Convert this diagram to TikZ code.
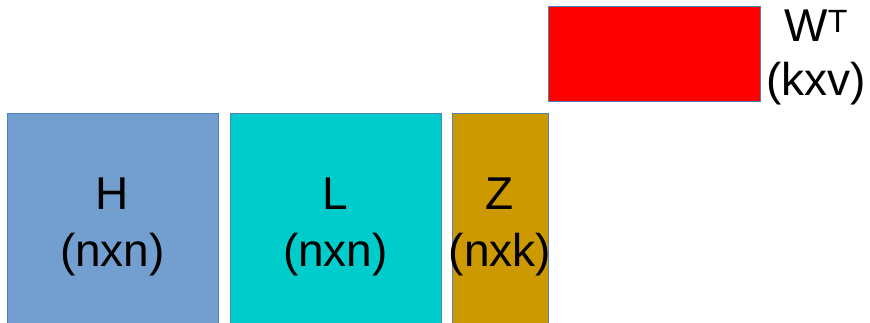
\documentclass[tikz,border=0pt]{standalone}
\usepackage{fontspec}
\setmainfont{Liberation Sans}
\usetikzlibrary{positioning, calc}
\definecolor{hblue}{HTML}{729FCF}
\definecolor{lcyan}{HTML}{00CCCC}
\definecolor{zgold}{HTML}{CC9900}
\definecolor{edgeblue}{HTML}{4F81BD}

\begin{document}
\begin{tikzpicture}[x=1pt, y=-1pt,
  mat/.style={draw=edgeblue, line width=0.6pt, inner sep=0pt, minimum height=211pt},
  lbl/.style={align=center, inner sep=0pt, font=\fontsize{46}{57}\selectfont}
]
\useasboundingbox (0,0) rectangle (870,322);
%% MATRICES
\node[mat, fill=hblue, minimum width=211pt] (h) at (112.5,218.5) {};
\node[mat, fill=lcyan, minimum width=211pt] (l) at (335.5,218.5) {};
\node[mat, fill=zgold, minimum width=96pt]  (z) at (500,218.5) {};
\node[lbl] (hlbl) at ($(h.center)+(0,8)$) {H\\(nxn)};
\node[lbl] (llbl) at ($(l.center)+(0,8)$) {L\\(nxn)};
\node[lbl] (zlbl) at ($(z.center)+(0,8)$) {Z\\(nxk)};
%% TRANSPOSED WEIGHTS
\node[draw=edgeblue, line width=0.6pt, fill=red, minimum width=212pt,
      minimum height=95pt, inner sep=0pt] (w) at (654,53.5) {};
\node[lbl, right=6pt of w.east, yshift=-4pt, font=\fontsize{46}{54}\selectfont] (wlbl) {W\textsuperscript{T}\\(kxv)};
\end{tikzpicture}
\end{document}
